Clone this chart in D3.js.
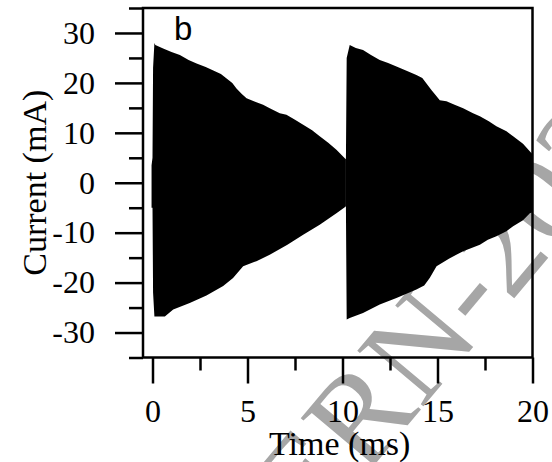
<!DOCTYPE html>
<html>
<head>
<meta charset="utf-8">
<script src="https://cdn.jsdelivr.net/npm/d3@7"></script>
<style>
  html, body { margin: 0; padding: 0; background: #fff; }
  svg { display: block; }
</style>
</head>
<body>
<svg id="chart" width="552" height="462"></svg>
<script>
// Current envelope of two decaying RF pulses (upper / lower bounds of the dense oscillation)
const pulse1UpperTime = [-0.05, 0.0, 0.03, 0.1, 0.15, 0.56, 1.0, 1.44, 1.9, 2.32, 2.8, 3.2, 3.6, 3.9, 4.2, 4.42, 4.7, 4.95, 5.4, 5.82, 6.17, 6.7, 7.05, 7.5, 7.93, 8.4, 8.8, 9.25, 9.68, 10.12, 10.18];
const pulse1Upper     = [3.5, 5, 23, 28, 27.6, 26.9, 26.2, 25.6, 24.6, 23.9, 23.2, 22.5, 21.8, 20.9, 20.0, 18.9, 17.8, 16.9, 16.2, 15.6, 14.9, 13.9, 13.6, 12.6, 11.6, 10.5, 9.3, 8.0, 6.6, 4.9, 4.7];
const pulse1LowerTime = [-0.05, 0.0, 0.03, 0.1, 0.65, 1.09, 1.96, 2.84, 3.72, 4.24, 4.77, 5.47, 6.17, 7.1, 7.93, 8.8, 9.68, 10.12, 10.18];
const pulse1Lower     = [-5, -5, -22, -26.8, -26.8, -25.4, -24.1, -22.6, -20.7, -19.1, -16.7, -15.7, -14.4, -12.4, -10.4, -8.4, -6.1, -4.9, -4.7];

const pulse2UpperTime = [10.18, 10.22, 10.38, 10.7, 11.08, 11.5, 11.96, 12.4, 12.84, 13.4, 13.89, 14.2, 14.42, 14.7, 14.95, 15.12, 15.47, 15.9, 16.35, 16.87, 17.23, 17.7, 18.1, 18.63, 18.98, 19.5, 19.95, 20];
const pulse2Upper     = [4.7, 25, 27.6, 27.0, 26.6, 25.6, 24.6, 24.0, 23.3, 22.4, 21.6, 21.0, 19.9, 18.5, 17.3, 16.5, 16.3, 15.6, 14.9, 13.9, 13.3, 12.3, 11.3, 10.3, 9.3, 7.8, 5.9, 5.8];
const pulse2LowerTime = [10.18, 10.22, 10.38, 11.08, 11.96, 12.84, 13.89, 14.3, 14.59, 14.95, 15.6, 16.35, 17.23, 17.65, 18.1, 18.63, 18.98, 19.5, 19.86, 20];
const pulse2Lower     = [-4.7, -27.4, -27.1, -26.1, -24.4, -23.1, -21.4, -20.6, -19.1, -16.7, -15.2, -13.7, -12.4, -11.4, -10.7, -9.7, -8.7, -7.5, -6.1, -5.9];

// Axis ticks
const xMajorTicks = [0, 5, 10, 15, 20];
const xMinorTicks = [2.5, 7.5, 12.5, 17.5];
const yMajorTicks = [-30, -20, -10, 0, 10, 20, 30];
const yMinorTicks = [-35, -25, -15, -5, 5, 15, 25, 35];

const xTitle = "Time (ms)";
const yTitle = "Current (mA)";
const panelLabel = "b";
const stampText = "CERN-2020";

const svg = d3.select("#chart");
const plotLeft = 143, plotRight = 532.5, plotTop = 8, plotBottom = 357.5;

const x = d3.scaleLinear().domain([-0.5, 20]).range([plotLeft, plotRight]);
const y = d3.scaleLinear().domain([-35, 35]).range([plotBottom, plotTop]);

const serif = "'Liberation Serif', 'Times New Roman', serif";

// Background stamp, drawn underneath the plot
svg.append("text")
  .attr("transform", "translate(256,606) rotate(-50)")
  .attr("font-family", serif)
  .attr("font-size", 132)
  .attr("fill", "#a6a6a6")
  .text(stampText);

// Envelope polygons
const outline = d3.line().x(d => x(d[0])).y(d => y(d[1]));
function polygon(ut, uv, lt, lv) {
  const upper = ut.map((t, i) => [t, uv[i]]);
  const lower = lt.map((t, i) => [t, lv[i]]).reverse();
  return outline(upper.concat(lower)) + "Z";
}
svg.append("defs").append("clipPath").attr("id", "plotClip")
  .append("rect").attr("x", plotLeft).attr("y", plotTop)
  .attr("width", plotRight - plotLeft).attr("height", plotBottom - plotTop);

const traces = svg.append("g").attr("clip-path", "url(#plotClip)");
traces.append("path")
  .attr("d", polygon(pulse1UpperTime, pulse1Upper, pulse1LowerTime, pulse1Lower))
  .attr("fill", "#000");
traces.append("path")
  .attr("d", polygon(pulse2UpperTime, pulse2Upper, pulse2LowerTime, pulse2Lower))
  .attr("fill", "#000");

// Axes
function styleAxis(g, width) {
  g.select(".domain").remove();
  g.selectAll(".tick line").attr("stroke", "#000").attr("stroke-width", width);
  g.selectAll("text").attr("font-family", serif).attr("font-size", 32).attr("fill", "#000");
}

svg.append("g").attr("transform", `translate(${plotLeft},0)`)
  .call(d3.axisLeft(y).tickValues(yMinorTicks).tickSize(14).tickFormat(""))
  .call(g => styleAxis(g, 2.5));
svg.append("g").attr("transform", `translate(${plotLeft},0)`)
  .call(d3.axisLeft(y).tickValues(yMajorTicks).tickSize(28).tickPadding(20).tickFormat(d => String(d)))
  .call(g => styleAxis(g, 2.5));

svg.append("g").attr("transform", `translate(0,${plotBottom})`)
  .call(d3.axisBottom(x).tickValues(xMinorTicks).tickSize(13).tickFormat(""))
  .call(g => styleAxis(g, 2.5));
svg.append("g").attr("transform", `translate(0,${plotBottom})`)
  .call(d3.axisBottom(x).tickValues(xMajorTicks).tickSize(26).tickPadding(16).tickFormat(d => String(d)))
  .call(g => styleAxis(g, 2.5));

// Frame
svg.append("rect")
  .attr("x", plotLeft).attr("y", plotTop)
  .attr("width", plotRight - plotLeft).attr("height", plotBottom - plotTop)
  .attr("fill", "none").attr("stroke", "#000").attr("stroke-width", 2.5);

// Titles
svg.append("text")
  .attr("x", (plotLeft + plotRight) / 2 + 2).attr("y", 455)
  .attr("text-anchor", "middle")
  .attr("font-family", serif).attr("font-size", 34)
  .text(xTitle);

svg.append("text")
  .attr("transform", `translate(46,${(plotTop + plotBottom) / 2}) rotate(-90)`)
  .attr("text-anchor", "middle")
  .attr("font-family", serif).attr("font-size", 34)
  .text(yTitle);

svg.append("text")
  .attr("x", 174).attr("y", 40)
  .attr("font-family", "'Liberation Sans', Arial, sans-serif")
  .attr("font-size", 33)
  .text(panelLabel);
</script>
</body>
</html>
